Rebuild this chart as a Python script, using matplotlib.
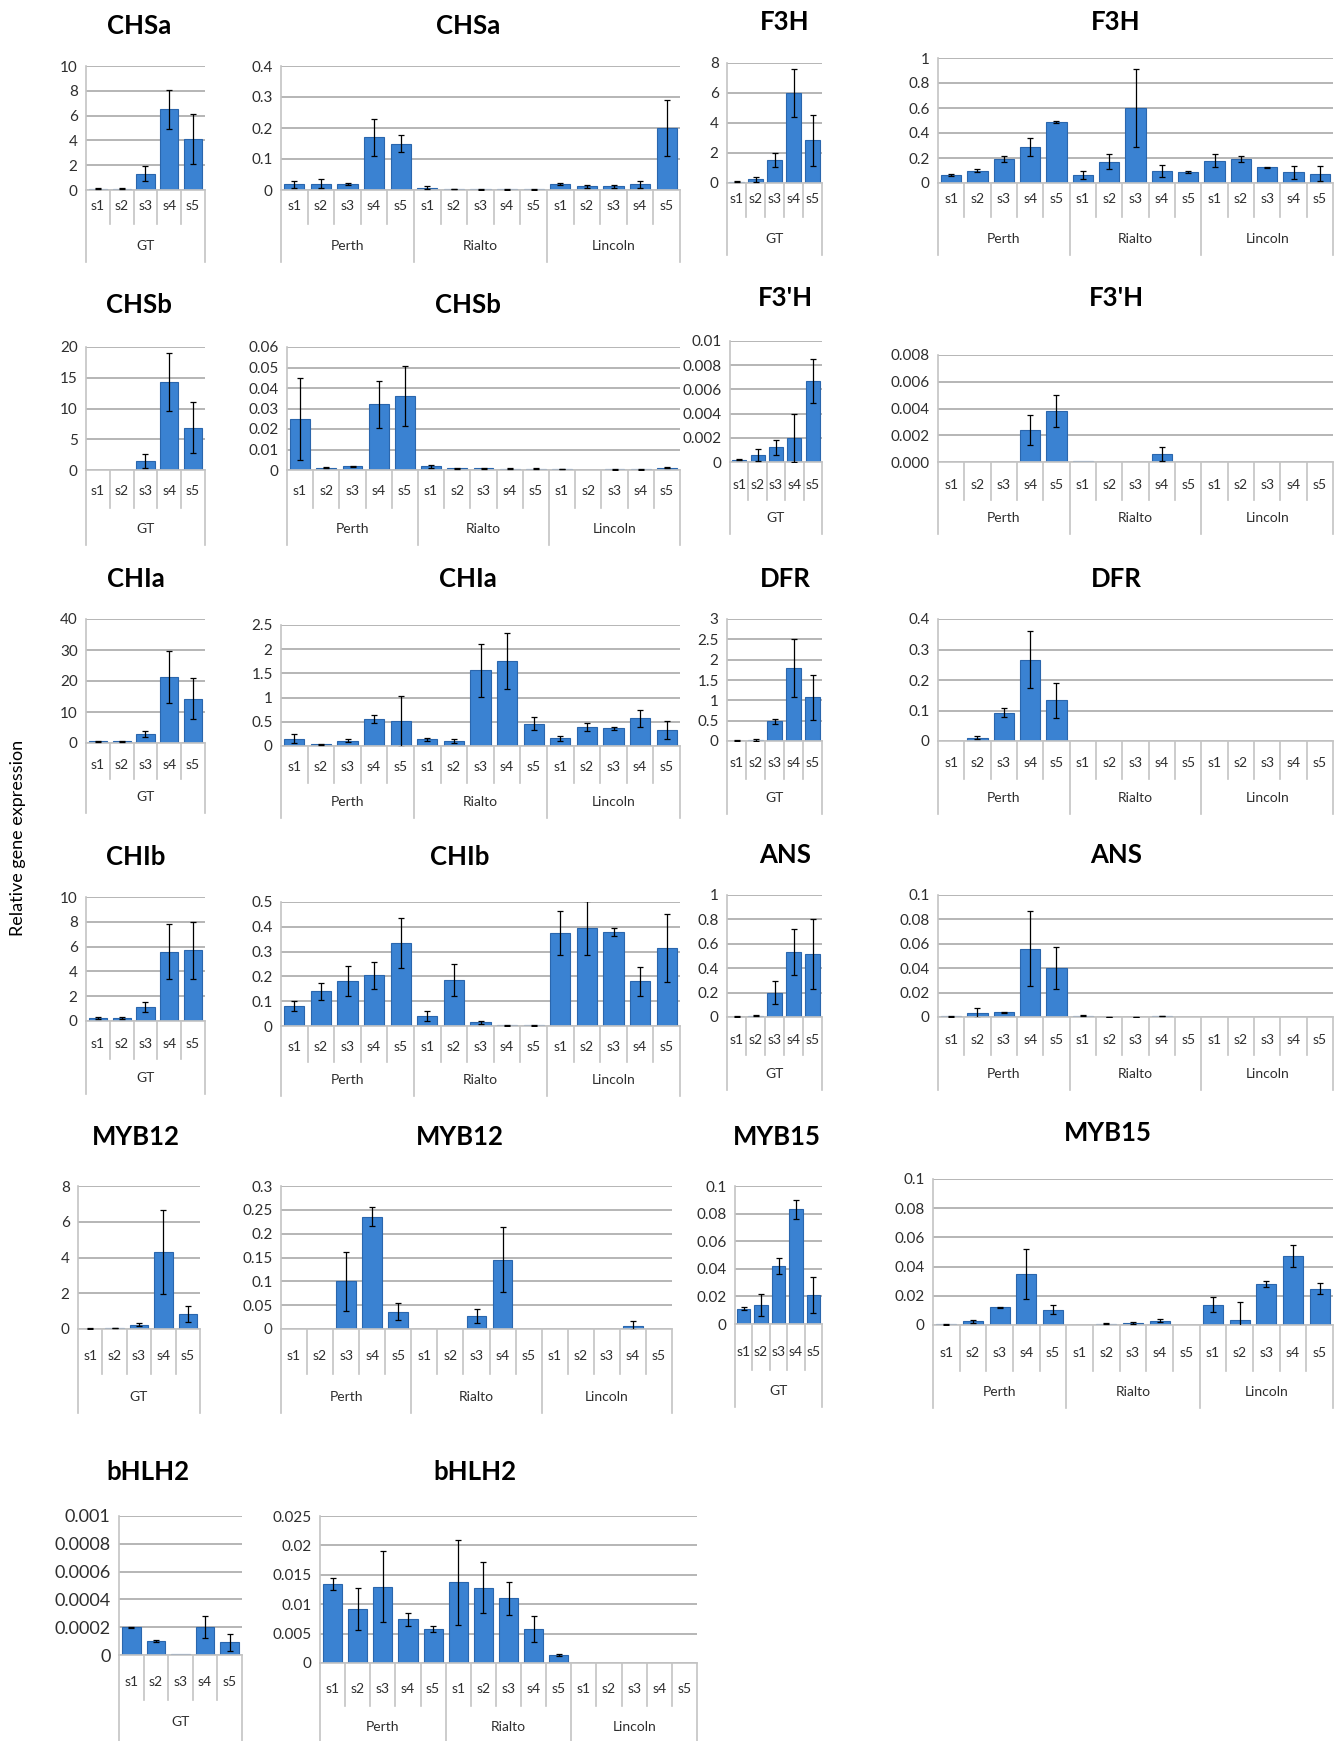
import numpy as np
import matplotlib
matplotlib.use("Agg")
import matplotlib.pyplot as plt

plt.rcParams['font.family'] = ['Lato', 'DejaVu Sans']

W, H = 1336, 1741

stages = ['s1', 's2', 's3', 's4', 's5']
gt_group = ['GT']
cultivars = ['Perth', 'Rialto', 'Lincoln']

# values (mean, error)
chsa_gt = [0.1, 0.1, 1.3, 6.5, 4.1]
chsa_gt_err = [0.05, 0.05, 0.6, 1.6, 2.0]
chsa_cv = [0.018, 0.02, 0.018, 0.17, 0.15, 0.008, 0.003, 0.002, 0.002, 0.002, 0.02, 0.012, 0.012, 0.018, 0.20]
chsa_cv_err = [0.012, 0.015, 0.003, 0.06, 0.027, 0.004, 0.001, 0.001, 0.001, 0.001, 0.004, 0.004, 0.005, 0.01, 0.09]

f3h_gt = [0.1, 0.25, 1.55, 6.0, 2.85]
f3h_gt_err = [0.05, 0.15, 0.45, 1.6, 1.7]
f3h_cv = [0.065, 0.10, 0.19, 0.29, 0.49, 0.065, 0.17, 0.60, 0.095, 0.09, 0.18, 0.19, 0.125, 0.085, 0.075]
f3h_cv_err = [0.005, 0.015, 0.025, 0.07, 0.01, 0.035, 0.06, 0.31, 0.05, 0.01, 0.055, 0.025, 0.005, 0.055, 0.06]

chsb_gt = [0, 0, 1.5, 14.3, 6.9]
chsb_gt_err = [0, 0, 1.1, 4.7, 4.2]
chsb_cv = [0.025, 0.0012, 0.0018, 0.032, 0.036, 0.0018, 0.0008, 0.0009, 0.0006, 0.0006, 0.0004, 0, 0.0003, 0.0003, 0.0012]
chsb_cv_err = [0.02, 0.0003, 0.0003, 0.0115, 0.0145, 0.0008, 0.0003, 0.0003, 0.0002, 0.0002, 0.0001, 0, 0.0001, 0.0001, 0.0004]

f3ph_gt = [0.0002, 0.0006, 0.0012, 0.002, 0.0067]
f3ph_gt_err = [0.00005, 0.0005, 0.0006, 0.002, 0.0018]
f3ph_cv = [0.00003, 0, 0.00003, 0.0024, 0.0038, 0.00005, 0, 0, 0.0006, 0, 0, 0, 0, 0, 0]
f3ph_cv_err = [0, 0, 0, 0.0011, 0.0012, 0, 0, 0, 0.0005, 0, 0, 0, 0, 0, 0]

chia_gt = [0.5, 0.5, 3.0, 21.3, 14.3]
chia_gt_err = [0.2, 0.2, 1.0, 8.3, 6.7]
chia_cv = [0.15, 0.04, 0.11, 0.56, 0.51, 0.14, 0.11, 1.56, 1.76, 0.46, 0.16, 0.39, 0.37, 0.57, 0.33]
chia_cv_err = [0.09, 0.01, 0.03, 0.08, 0.53, 0.03, 0.04, 0.54, 0.58, 0.13, 0.05, 0.08, 0.03, 0.18, 0.18]

dfr_gt = [0.01, 0.03, 0.48, 1.8, 1.07]
dfr_gt_err = [0.01, 0.02, 0.07, 0.72, 0.55]
dfr_cv = [0, 0.01, 0.093, 0.267, 0.133, 0, 0, 0, 0, 0, 0, 0, 0, 0, 0]
dfr_cv_err = [0, 0.005, 0.015, 0.093, 0.057, 0, 0, 0, 0, 0, 0, 0, 0, 0, 0]

chib_gt = [0.25, 0.25, 1.1, 5.6, 5.7]
chib_gt_err = [0.05, 0.05, 0.4, 2.2, 2.3]
chib_cv = [0.08, 0.14, 0.18, 0.205, 0.335, 0.04, 0.185, 0.015, 0.003, 0.003, 0.375, 0.395, 0.38, 0.18, 0.315]
chib_cv_err = [0.02, 0.035, 0.06, 0.055, 0.1, 0.02, 0.063, 0.005, 0.001, 0.001, 0.087, 0.11, 0.017, 0.058, 0.137]

ans_gt = [0.003, 0.012, 0.20, 0.535, 0.515]
ans_gt_err = [0.002, 0.005, 0.095, 0.19, 0.285]
ans_cv = [0.0005, 0.0035, 0.004, 0.056, 0.04, 0.001, 0.0003, 0.0003, 0.0008, 0, 0.0003, 0.0002, 0.0002, 0.0004, 0.0001]
ans_cv_err = [0.0002, 0.004, 0.0005, 0.031, 0.017, 0.0004, 0.0001, 0.0001, 0.0003, 0, 0, 0, 0, 0, 0]

myb12_gt = [0.02, 0.04, 0.25, 4.3, 0.85]
myb12_gt_err = [0.01, 0.01, 0.08, 2.35, 0.45]
myb12_cv = [0.001, 0.001, 0.1, 0.236, 0.036, 0.001, 0.001, 0.027, 0.145, 0.001, 0, 0.0005, 0, 0.007, 0.001]
myb12_cv_err = [0, 0, 0.062, 0.02, 0.018, 0, 0, 0.015, 0.068, 0, 0, 0, 0, 0.01, 0]

myb15_gt = [0.011, 0.014, 0.042, 0.083, 0.021]
myb15_gt_err = [0.001, 0.008, 0.006, 0.007, 0.013]
myb15_cv = [0.0005, 0.0025, 0.012, 0.035, 0.0105, 0, 0.0008, 0.0015, 0.003, 0.0003, 0.014, 0.0035, 0.028, 0.047, 0.025]
myb15_cv_err = [0.0002, 0.001, 0.0005, 0.017, 0.003, 0, 0.0003, 0.0005, 0.001, 0, 0.005, 0.0125, 0.002, 0.0075, 0.004]

bhlh2_gt = [0.0002, 0.0001, 0.000005, 0.0002, 0.00009]
bhlh2_gt_err = [0.000005, 0.000005, 0, 0.00008, 0.00006]
bhlh2_cv = [0.0135, 0.0092, 0.013, 0.0074, 0.0058, 0.0137, 0.0128, 0.011, 0.0058, 0.0014, 0, 0, 0, 0, 0]
bhlh2_cv_err = [0.001, 0.0036, 0.006, 0.0011, 0.0005, 0.0072, 0.0043, 0.0028, 0.0022, 0.0002, 0, 0, 0, 0, 0]

# y ticks for each panel
t_chsa_gt = [0, 2, 4, 6, 8, 10]
t_chsa_cv = [0, 0.1, 0.2, 0.3, 0.4]
t_f3h_gt = [0, 2, 4, 6, 8]
t_f3h_cv = [0, 0.2, 0.4, 0.6, 0.8, 1]
t_chsb_gt = [0, 5, 10, 15, 20]
t_chsb_cv = [0, 0.01, 0.02, 0.03, 0.04, 0.05, 0.06]
t_f3ph_gt = [0, 0.002, 0.004, 0.006, 0.008, 0.01]
t_f3ph_cv = [0, 0.002, 0.004, 0.006, 0.008]
t_chia_gt = [0, 10, 20, 30, 40]
t_chia_cv = [0, 0.5, 1, 1.5, 2, 2.5]
t_dfr_gt = [0, 0.5, 1, 1.5, 2, 2.5, 3]
t_dfr_cv = [0, 0.1, 0.2, 0.3, 0.4]
t_chib_gt = [0, 2, 4, 6, 8, 10]
t_chib_cv = [0, 0.1, 0.2, 0.3, 0.4, 0.5]
t_ans_gt = [0, 0.2, 0.4, 0.6, 0.8, 1]
t_ans_cv = [0, 0.02, 0.04, 0.06, 0.08, 0.1]
t_myb12_gt = [0, 2, 4, 6, 8]
t_myb12_cv = [0, 0.05, 0.1, 0.15, 0.2, 0.25, 0.3]
t_myb15 = [0, 0.02, 0.04, 0.06, 0.08, 0.1]
t_bhlh2_gt = [0, 0.0002, 0.0004, 0.0006, 0.0008, 0.001]
t_bhlh2_cv = [0, 0.005, 0.01, 0.015, 0.02, 0.025]

BAR = '#3a82d2'
EDGE = '#2a66ad'
GRID = '#b0b0b0'
AXC = '#c4c4c4'
TXT = '#2e2e2e'

fig = plt.figure(figsize=(W / 100, H / 100), dpi=100)


def panel(box, vals, errs, groups, ticks, title, title_xy, sdep, gdep,
          fmt='{:g}', tick_fs=11, bottom=None):
    # box = (left, right, y pixel of top tick, y pixel of zero), image pixels
    left, right, top, zero = box
    n = len(vals)
    ax = fig.add_axes([left / W, 1 - zero / H, (right - left) / W, (zero - top) / H])
    x = np.arange(n)
    ax.bar(x, vals, width=0.76, color=BAR, edgecolor=EDGE, linewidth=0.8, zorder=2)
    v = np.array(vals, dtype=float)
    e = np.array(errs, dtype=float)
    m = e > 0
    ax.errorbar(x[m], v[m], yerr=e[m], fmt='none', ecolor='black',
                elinewidth=0.9, capsize=2.5, capthick=0.9, zorder=3)
    ax.set_xlim(-0.5, n - 0.5)
    ax.set_ylim(0, ticks[-1])
    ax.set_yticks(ticks)
    ax.set_yticklabels([fmt.format(t) for t in ticks])
    ax.set_xticks([])
    ax.grid(axis='y', color=GRID, linewidth=1.3)
    ax.set_axisbelow(True)
    for s in ['top', 'right']:
        ax.spines[s].set_visible(False)
    for s in ['left', 'bottom']:
        ax.spines[s].set_color(AXC)
        ax.spines[s].set_linewidth(1.2)
    ax.tick_params(axis='y', length=0, pad=6, labelsize=tick_fs, labelcolor=TXT)

    # category table below the axis
    depth = gdep + 16 if bottom is None else bottom - zero
    short = sdep + (gdep - sdep) * 0.45
    tab = fig.add_axes([left / W, 1 - (zero + depth) / H, (right - left) / W, depth / H])
    tab.set_xlim(-0.5, n - 0.5)
    tab.set_ylim(depth, 0)
    tab.axis('off')
    for i in range(n + 1):
        d = depth if i % 5 == 0 else short
        tab.plot([i - 0.5, i - 0.5], [0, d], color=AXC, lw=1.2, clip_on=False)
    for i in range(n):
        tab.text(i, sdep, stages[i % 5], ha='center', va='center', fontsize=10, color=TXT)
    for g, name in enumerate(groups):
        tab.text(g * 5 + 2, gdep, name, ha='center', va='center', fontsize=10, color=TXT)

    fig.text(title_xy[0] / W, 1 - title_xy[1] / H, title, ha='center', va='center',
             fontsize=18.5, fontweight='bold', color='black')


# row 1
panel((86, 205, 66, 190), chsa_gt, chsa_gt_err, gt_group, t_chsa_gt, 'CHSa', (139, 26), 16, 56)
panel((281, 680, 66, 190), chsa_cv, chsa_cv_err, cultivars, t_chsa_cv, 'CHSa', (468, 26), 16, 56)
panel((727, 822, 63, 183), f3h_gt, f3h_gt_err, gt_group, t_f3h_gt, 'F3H', (785, 22), 16, 56)
panel((938, 1333, 58, 183), f3h_cv, f3h_cv_err, cultivars, t_f3h_cv, 'F3H', (1116, 22), 16, 56)

# row 2
panel((86, 205, 347, 470), chsb_gt, chsb_gt_err, gt_group, t_chsb_gt, 'CHSb', (139, 305), 21, 59)
panel((287, 680, 347, 470), chsb_cv, chsb_cv_err, cultivars, t_chsb_cv, 'CHSb', (468, 305), 21, 59)
panel((730, 822, 341, 462), f3ph_gt, f3ph_gt_err, gt_group, t_f3ph_gt, "F3'H", (785, 298), 23, 56)
panel((938, 1333, 355, 462), f3ph_cv, f3ph_cv_err, cultivars, t_f3ph_cv, "F3'H", (1116, 298), 23, 56,
      fmt='{:.3f}')

# row 3
panel((86, 205, 619, 743), chia_gt, chia_gt_err, gt_group, t_chia_gt, 'CHIa', (136, 579), 22, 54)
panel((281, 680, 625, 746), chia_cv, chia_cv_err, cultivars, t_chia_cv, 'CHIa', (468, 579), 21, 56)
panel((727, 822, 619, 741), dfr_gt, dfr_gt_err, gt_group, t_dfr_gt, 'DFR', (785, 579), 22, 57)
panel((938, 1333, 619, 741), dfr_cv, dfr_cv_err, cultivars, t_dfr_cv, 'DFR', (1116, 579), 22, 57)

# row 4
panel((86, 205, 897, 1021), chib_gt, chib_gt_err, gt_group, t_chib_gt, 'CHIb', (136, 857), 23, 57)
panel((281, 680, 902, 1026), chib_cv, chib_cv_err, cultivars, t_chib_cv, 'CHIb', (460, 857), 21, 54)
panel((727, 822, 895, 1017), ans_gt, ans_gt_err, gt_group, t_ans_gt, 'ANS', (785, 855), 23, 57)
panel((938, 1333, 895, 1017), ans_cv, ans_cv_err, cultivars, t_ans_cv, 'ANS', (1116, 855), 23, 57)

# row 5
panel((78, 200, 1186, 1329), myb12_gt, myb12_gt_err, gt_group, t_myb12_gt, 'MYB12', (136, 1137), 27, 68)
panel((281, 672, 1186, 1329), myb12_cv, myb12_cv_err, cultivars, t_myb12_cv, 'MYB12', (460, 1137), 27, 68)
panel((735, 822, 1186, 1324), myb15_gt, myb15_gt_err, gt_group, t_myb15, 'MYB15', (777, 1137), 28, 67)
panel((933, 1333, 1179, 1325), myb15_cv, myb15_cv_err, cultivars, t_myb15, 'MYB15', (1108, 1133), 28, 67)

# row 6
panel((119, 242, 1516, 1655), bhlh2_gt, bhlh2_gt_err, gt_group, t_bhlh2_gt, 'bHLH2', (148, 1472), 27, 67,
      tick_fs=13, bottom=H)
panel((320, 697, 1516, 1663), bhlh2_cv, bhlh2_cv_err, cultivars, t_bhlh2_cv, 'bHLH2', (475, 1472), 26, 64,
      bottom=H)

fig.text(18 / W, 1 - 838 / H, 'Relative gene expression', rotation=90, ha='center', va='center',
         fontsize=13, color='black')

fig.savefig('out.png', dpi=100)
